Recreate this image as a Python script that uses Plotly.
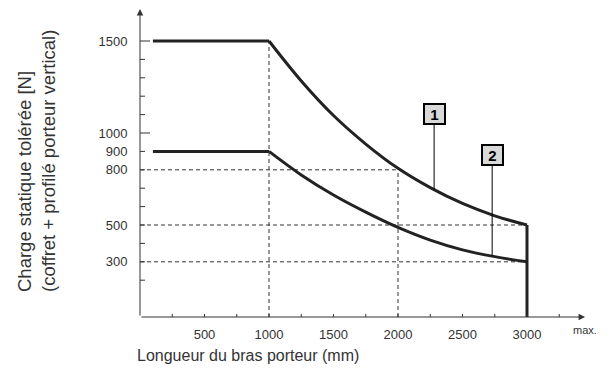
import numpy as np
import plotly.graph_objects as go

# ---- data ----
arm_length = [100, 1000, 1250, 1500, 1750, 2000, 2250, 2500, 2750, 3000]
load_1 = [1500, 1500, 1283, 1095, 940, 808, 703, 617, 550, 500]
load_2 = [900, 900, 772, 663, 570, 487, 418, 365, 328, 300]

x_ticks = [500, 1000, 1500, 2000, 2500, 3000]
x_minor = [250, 500, 750, 1000, 1250, 1500, 1750, 2000, 2250, 2500, 2750, 3000, 3250]
y_ticks = [300, 500, 800, 900, 1000, 1500]
y_minor = [200, 400, 600, 700, 1100, 1200, 1300, 1400]
y_long = [1000, 1500]

# reference guides (dashed)
h_guides = [(800, 2000), (500, 3000), (300, 3000)]   # (load, up to length)
v_guides = [(1000, 1500), (2000, 800)]               # (length, up to load)

label_1 = ("1", 2280, 1103)
label_2 = ("2", 2730, 880)

INK = "#222222"
AX = "#333333"
FONT = "Liberation Sans, Arial, sans-serif"

# the page body has an 8px margin: the figure is sized to fill the rest of the window
W, H = 602, 368
ML, MB = 132, 59
PW, PH = W - ML, H - MB
XMAX = PW / 0.129
YMAX = PH / 0.184

fig = go.Figure()

for ys in (load_1, load_2):
    fig.add_trace(go.Scatter(x=arm_length[:2], y=ys[:2], mode="lines",
                             line=dict(color=INK, width=3), hoverinfo="skip"))
    fig.add_trace(go.Scatter(x=arm_length[1:], y=ys[1:], mode="lines",
                             line=dict(color=INK, width=3, shape="spline", smoothing=1.0),
                             hoverinfo="skip"))
fig.add_trace(go.Scatter(x=[arm_length[-1], arm_length[-1]], y=[load_1[-1], 0], mode="lines",
                         line=dict(color=INK, width=3), hoverinfo="skip"))

shapes = []
dash = "4px,3px"
for yv, xe in h_guides:
    shapes.append(dict(type="line", xref="x", yref="y", x0=0, x1=xe, y0=yv, y1=yv,
                       line=dict(color=AX, width=1, dash=dash), layer="below"))
for xv, ye in v_guides:
    shapes.append(dict(type="line", xref="x", yref="y", x0=xv, x1=xv, y0=0, y1=ye,
                       line=dict(color=AX, width=1, dash=dash), layer="below"))
for yv in y_minor + [v for v in y_ticks if v not in y_long]:
    shapes.append(dict(type="line", xref="x", yref="y", xsizemode="pixel", xanchor=0,
                       x0=-5, x1=5, y0=yv, y1=yv, line=dict(color=AX, width=1)))
for yv in y_long:
    shapes.append(dict(type="line", xref="x", yref="y", xsizemode="pixel", xanchor=0,
                       x0=-11, x1=10, y0=yv, y1=yv, line=dict(color=AX, width=1)))
for xv in x_minor:
    shapes.append(dict(type="line", xref="x", yref="y", ysizemode="pixel", yanchor=0,
                       y0=-3, y1=3, x0=xv, x1=xv, line=dict(color=AX, width=1)))

annotations = []
annotations.append(dict(x=3450, y=0, ax=0, ay=0, xref="x", yref="y", axref="x", ayref="y",
                        text="", showarrow=True, arrowhead=2, arrowsize=1.3, arrowwidth=1,
                        arrowcolor=AX, standoff=0, startstandoff=0))
annotations.append(dict(x=0, y=1674, ax=0, ay=0, xref="x", yref="y", axref="x", ayref="y",
                        text="", showarrow=True, arrowhead=2, arrowsize=1.3, arrowwidth=1,
                        arrowcolor=AX, standoff=0, startstandoff=0))
for (txt, lx, ly), ys in ((label_1, load_1), (label_2, load_2)):
    cy = float(np.interp(lx, arm_length, ys))
    annotations.append(dict(x=lx, y=cy, ax=lx, ay=ly, xref="x", yref="y", axref="x", ayref="y",
                            text="<b>%s</b>" % txt, showarrow=True, arrowhead=0, arrowwidth=1,
                            arrowcolor="black", standoff=0,
                            font=dict(family=FONT, size=15, color="black"),
                            bgcolor="#d9d9d9", bordercolor="black", borderwidth=2,
                            borderpad=0, width=19, height=18))
annotations.append(dict(x=(591 - ML) / PW, y=0, xref="paper", yref="paper", yshift=-13,
                        yanchor="middle", text="max.", showarrow=False,
                        font=dict(family=FONT, size=11, color=AX)))
annotations.append(dict(x=(127 - ML) / PW, y=(PH - 347) / PH, xref="paper", yref="paper",
                        xanchor="left", yanchor="middle", text="Longueur du bras porteur (mm)",
                        showarrow=False, font=dict(family=FONT, size=16, color=AX)))
annotations.append(dict(x=(28 - ML) / PW, y=(PH - 153) / PH, xref="paper",
                        yref="paper", xanchor="center", yanchor="middle", textangle=-90,
                        align="left",
                        text="Charge statique tolérée [N]<br>(coffret + profilé porteur vertical)",
                        showarrow=False, font=dict(family=FONT, size=18.5, color=AX)))

fig.update_layout(
    width=W, height=H,
    margin=dict(l=ML, r=0, t=0, b=MB, autoexpand=False),
    paper_bgcolor="white", plot_bgcolor="white",
    showlegend=False,
    shapes=shapes, annotations=annotations,
    xaxis=dict(range=[0, XMAX], showgrid=False, zeroline=False, showline=False,
               tickvals=x_ticks, ticktext=[str(v) for v in x_ticks], ticks="outside",
               ticklen=5, tickcolor="rgba(0,0,0,0)", automargin=False,
               tickfont=dict(family=FONT, size=13, color=AX)),
    yaxis=dict(range=[0, YMAX], showgrid=False, zeroline=False, showline=False,
               tickvals=y_ticks, ticktext=[str(v) for v in y_ticks], ticks="outside",
               ticklen=9, tickcolor="rgba(0,0,0,0)", automargin=False,
               tickfont=dict(family=FONT, size=13, color=AX)),
)

fig.write_html("out.html")
